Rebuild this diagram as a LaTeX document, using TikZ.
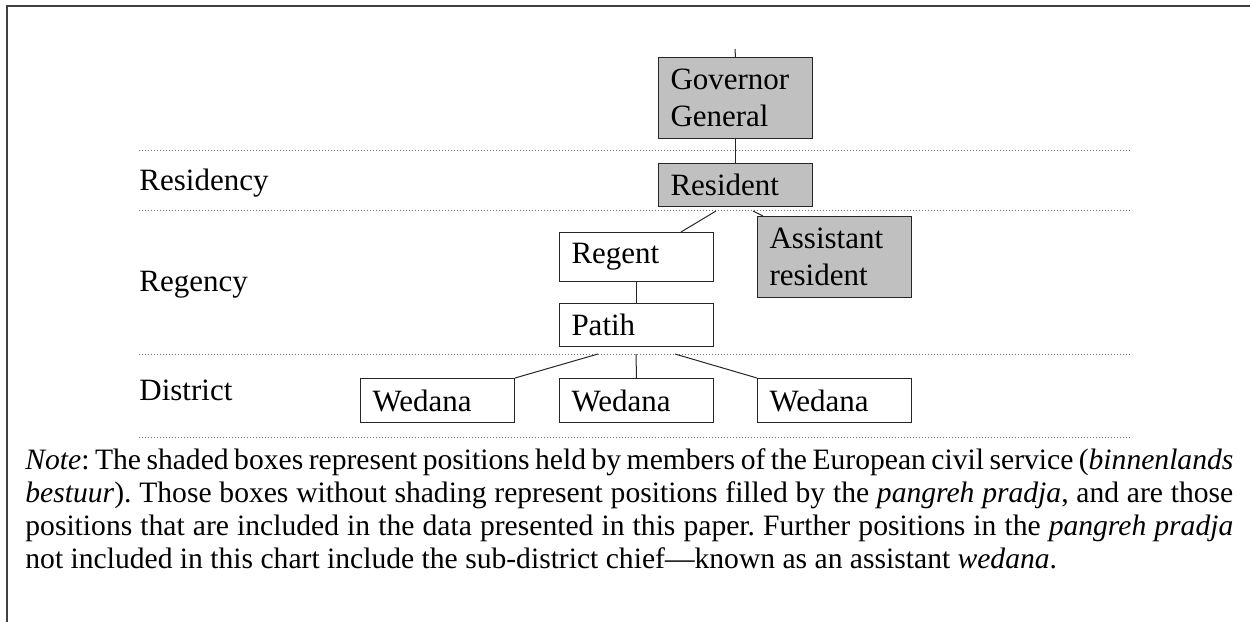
\documentclass[tikz,border=0pt]{standalone}
\usepackage{fontspec}
\setmainfont{Liberation Serif}
\usetikzlibrary{calc}
\definecolor{shade}{RGB}{192,192,192}
\frenchspacing
\begin{document}
\begin{tikzpicture}[x=0.5pt,y=-0.5pt,
  box/.style={draw=black!85, line width=0.5pt, anchor=north west, inner xsep=6pt, inner ysep=0pt,
    text width=65pt, align=left, font=\fontsize{15.5}{18.5}\selectfont},
  eu/.style={box, fill=shade},
  lvl/.style={anchor=base west, inner sep=0pt, font=\fontsize{15.5}{18}\selectfont},
  guide/.style={draw=black!55, line width=0.5pt, dash pattern=on 0.5pt off 1pt},
  link/.style={draw=black!85, line width=0.5pt},
  frameline/.style={draw=black!75, line width=1pt},
  note/.style={anchor=base west, inner sep=0pt, font=\fontsize{14.8}{16.5}\selectfont}]
\useasboundingbox (0,0) rectangle (1250,622);
% frame
\coordinate (fr1) at (1250,6);
\coordinate (fr2) at (7,6);
\coordinate (fr3) at (7,622);
\draw[frameline] (fr1) -- (fr2) -- (fr3);
% guide rules
\foreach \yy/\nm in {150.5/g1,210.7/g2,354/g3,437/g4}{
  \coordinate (\nm a) at (139,\yy);
  \coordinate (\nm b) at (1131,\yy);
  \draw[guide] (\nm a) -- (\nm b);
}
% level labels
\node[lvl] (lres) at (139,190) {Residency};
\node[lvl] (lreg) at (139,291) {Regency};
\node[lvl] (ldis) at (139,400) {District};
% boxes
\node[eu, minimum height=40.5pt] (gg) at (658,57) {Governor\\General};
\node[eu, minimum height=21.5pt] (res) at (658,163) {Resident};
\node[box, minimum height=24.5pt] (reg) at (559,232) {Regent};
\node[eu, minimum height=40.5pt] (asst) at (757,216) {Assistant\\resident};
\node[box, minimum height=21.5pt] (pat) at (559,303) {Patih};
\node[box, minimum height=22pt] (w1) at (360,378) {Wedana};
\node[box, minimum height=22pt] (w2) at (559,378) {Wedana};
\node[box, minimum height=22pt] (w3) at (757,378) {Wedana};
% connectors
\coordinate (top) at (735,49);
\draw[link] (top) -- (gg.north);
\draw[link] (gg.south) -- (res.north);
\coordinate (rL) at (716,211);
\coordinate (rR) at (753,211);
\draw[link] (rL) -- ($(reg.north east)+(-33,0)$);
\draw[link] (rR) -- ($(asst.north west)+(6,0)$);
\draw[link] (reg.south) -- (pat.north);
\coordinate (pL) at (598,354);
\coordinate (pM) at (636,354);
\coordinate (pR) at (675,354);
\draw[link] (pL) -- (w1.north east);
\draw[link] (pM) -- (w2.north);
\draw[link] (pR) -- (w3.north west);
% note
\node[note] (n1) at (25,469) {\makebox[604pt][s]{\textit{Note}: The shaded boxes represent positions held by members of the European civil service (\textit{binnenlands}}};
\node[note] (n2) at (25,502) {\makebox[604pt][s]{\textit{bestuur}). Those boxes without shading represent positions filled by the \textit{pangreh pradja}, and are those}};
\node[note] (n3) at (25,535) {\makebox[604pt][s]{positions that are included in the data presented in this paper. Further positions in the \textit{pangreh pradja}}};
\node[note] (n4) at (25,568) {not included in this chart include the sub-district chief—known as an assistant \textit{wedana}.};
\end{tikzpicture}
\end{document}
